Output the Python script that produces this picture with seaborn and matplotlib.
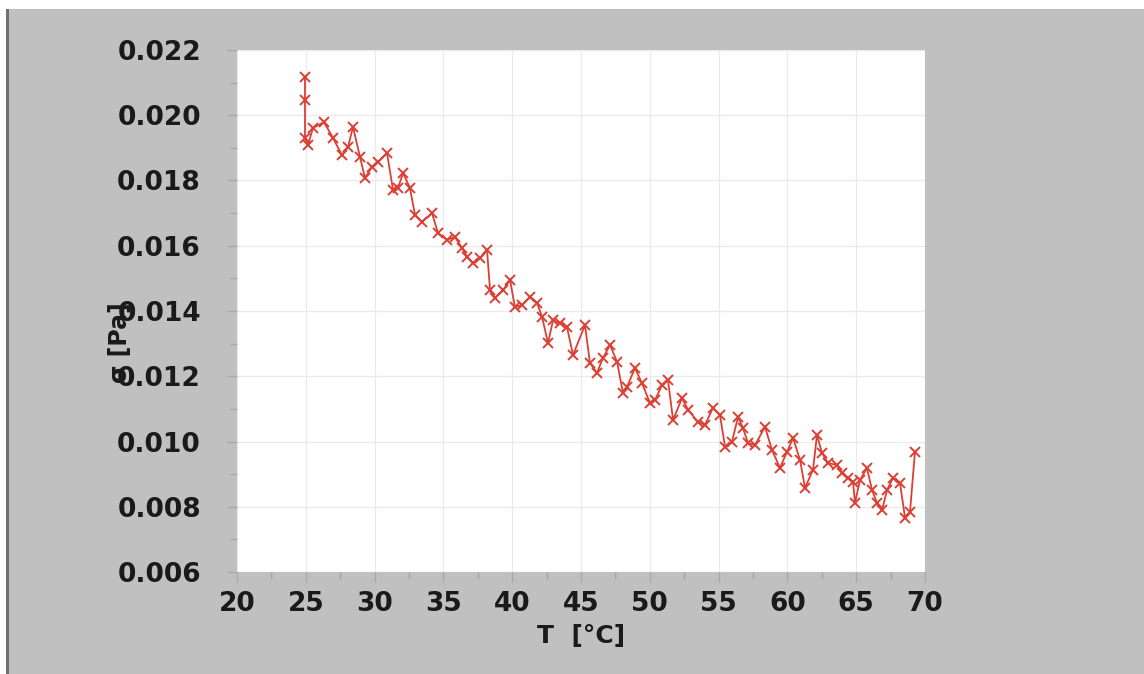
import numpy as np
import pandas as pd
import seaborn as sns
import matplotlib.pyplot as plt
from matplotlib.patches import Rectangle
from matplotlib.ticker import MultipleLocator, FormatStrFormatter

# temperature [°C] and stress [Pa]
temp = [24.94, 24.94, 24.94, 25.16, 25.52, 26.32, 26.98, 27.63, 28.07, 28.43,
        28.94, 29.30, 29.81, 30.25, 30.90, 31.34, 31.70, 32.07, 32.57, 32.94,
        33.44, 34.17, 34.61, 35.26, 35.84, 36.35, 36.72, 37.15, 37.66, 38.17,
        38.39, 38.75, 39.33, 39.84, 40.20, 40.71, 41.29, 41.80, 42.17, 42.60,
        42.97, 43.47, 43.98, 44.42, 45.29, 45.65, 46.16, 46.60, 47.11, 47.62,
        48.05, 48.34, 48.92, 49.43, 50.01, 50.38, 50.89, 51.32, 51.69, 52.34,
        52.78, 53.50, 54.01, 54.59, 55.10, 55.47, 55.97, 56.41, 56.77, 57.14,
        57.65, 58.37, 58.88, 59.46, 59.97, 60.41, 60.92, 61.28, 61.86, 62.15,
        62.51, 62.95, 63.60, 63.97, 64.40, 64.77, 64.91, 65.28, 65.78, 66.15,
        66.51, 66.88, 67.24, 67.67, 68.18, 68.55, 68.91, 69.27]
stress = [0.02117, 0.02047, 0.01930, 0.01909, 0.01961, 0.01979, 0.01930, 0.01878, 0.01903, 0.01964,
          0.01872, 0.01808, 0.01841, 0.01857, 0.01884, 0.01771, 0.01777, 0.01823, 0.01777, 0.01694,
          0.01673, 0.01700, 0.01639, 0.01618, 0.01627, 0.01593, 0.01566, 0.01547, 0.01562, 0.01587,
          0.01464, 0.01440, 0.01464, 0.01495, 0.01412, 0.01418, 0.01443, 0.01425, 0.01382, 0.01302,
          0.01372, 0.01363, 0.01351, 0.01265, 0.01357, 0.01241, 0.01210, 0.01256, 0.01296, 0.01244,
          0.01149, 0.01167, 0.01225, 0.01179, 0.01118, 0.01127, 0.01173, 0.01189, 0.01066, 0.01133,
          0.01097, 0.01060, 0.01051, 0.01103, 0.01081, 0.00983, 0.00999, 0.01075, 0.01041, 0.00995,
          0.00989, 0.01045, 0.00974, 0.00919, 0.00968, 0.01011, 0.00943, 0.00858, 0.00913, 0.01020,
          0.00965, 0.00934, 0.00928, 0.00904, 0.00888, 0.00876, 0.00812, 0.00882, 0.00919, 0.00851,
          0.00812, 0.00790, 0.00851, 0.00888, 0.00873, 0.00766, 0.00784, 0.00968]

df = pd.DataFrame({"T": temp, "stress": stress})

sns.set_style("white")
plt.rcParams['font.family'] = ['DejaVu Sans']

fig = plt.figure(figsize=(11.44, 6.74), dpi=100, facecolor='#c0c0c0')
# white strips and dark rule along the top/left edge of the screenshot
fig.patches.append(Rectangle((0, 1 - 9 / 674), 1, 9 / 674, transform=fig.transFigure,
                             facecolor='white', edgecolor='none', zorder=0))
fig.patches.append(Rectangle((0, 0), 6 / 1144, 1, transform=fig.transFigure,
                             facecolor='white', edgecolor='none', zorder=0))
fig.patches.append(Rectangle((6 / 1144, 0), 3 / 1144, 1 - 9 / 674, transform=fig.transFigure,
                             facecolor='#707070', edgecolor='none', zorder=0))

ax = fig.add_axes([237 / 1144, 1 - 572 / 674, 688 / 1144, 522 / 674])
ax.set_facecolor('white')

sns.lineplot(data=df, x="T", y="stress", ax=ax, sort=False, estimator=None,
             color='#dc3f33', linewidth=1.3, marker='x', markersize=7,
             markeredgewidth=1.4, markeredgecolor='#dc3f33')

ax.set_xlim(20, 70)
ax.set_ylim(0.006, 0.022)
ax.xaxis.set_major_locator(MultipleLocator(5))
ax.xaxis.set_minor_locator(MultipleLocator(2.5))
ax.yaxis.set_major_locator(MultipleLocator(0.002))
ax.yaxis.set_minor_locator(MultipleLocator(0.001))
ax.yaxis.set_major_formatter(FormatStrFormatter('%.3f'))

ax.grid(True, which='major', color='#ebebeb', linewidth=1)
for s in ax.spines.values():
    s.set_visible(False)

ax.tick_params(which='both', direction='out', color='#a8a8a8', labelsize=19,
               labelcolor='#1a1a1a', left=True, bottom=True)
ax.tick_params(which='major', length=7, width=1)
ax.tick_params(which='minor', length=5, width=1)
ax.tick_params(axis='y', which='major', pad=19)
ax.tick_params(axis='x', which='major', pad=7)
for lab in ax.get_xticklabels() + ax.get_yticklabels():
    lab.set_fontweight('bold')

ax.set_xlabel("T  [°C]", fontsize=18, fontweight='bold', color='#1a1a1a', labelpad=5)
ax.set_ylabel("σ [Pa]", fontsize=17, fontweight='bold', color='#1a1a1a')
ax.yaxis.set_label_coords(-0.152, 0.44)

fig.savefig("out.png", dpi=100, facecolor=fig.get_facecolor())
